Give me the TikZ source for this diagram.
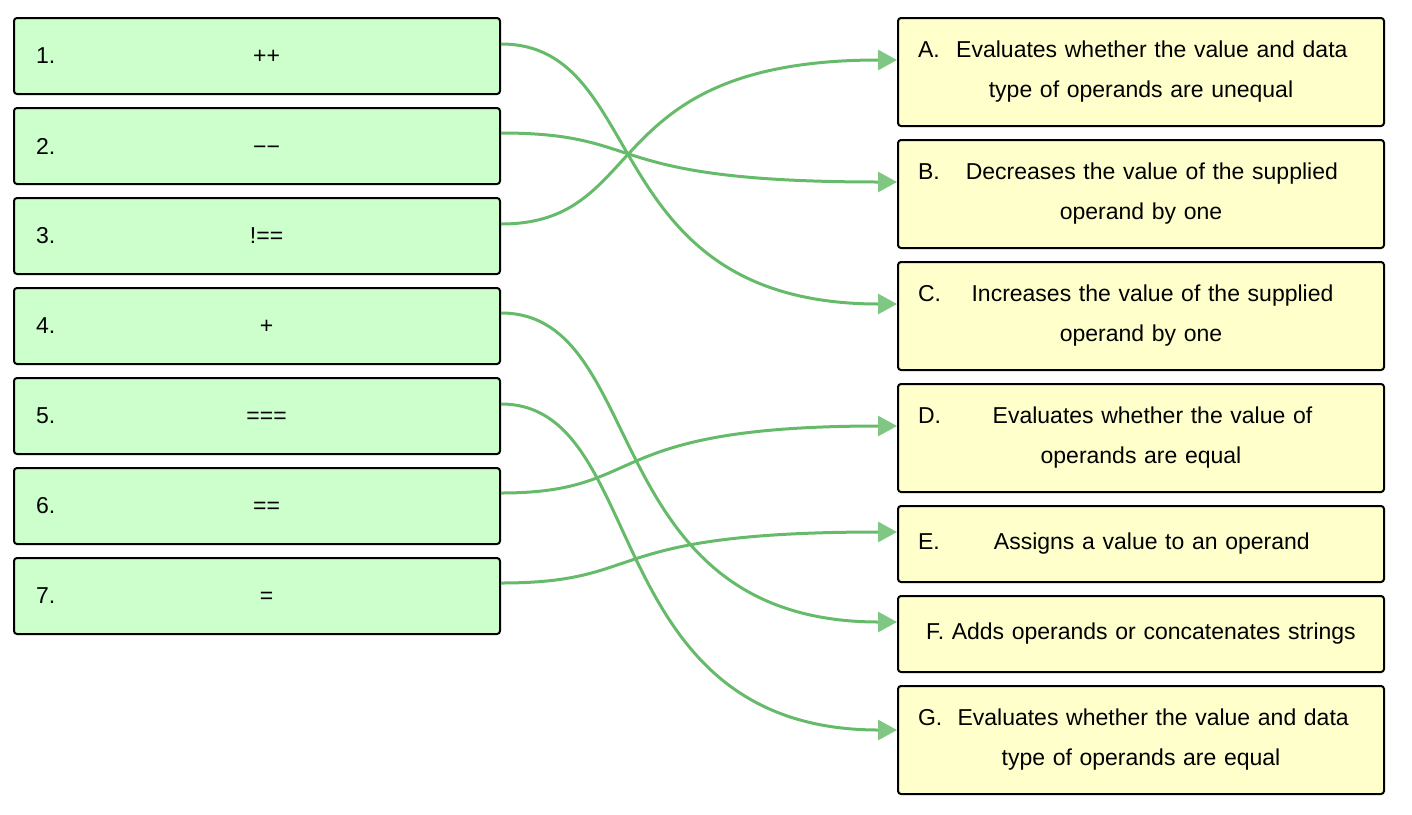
\documentclass[tikz,border=0pt]{standalone}
\usepackage{fontspec}
\setmainfont{Liberation Sans}
\usetikzlibrary{arrows.meta}
\definecolor{opgreen}{RGB}{204,255,204}
\definecolor{descyellow}{RGB}{255,255,204}
\definecolor{linkgreen}{RGB}{102,187,106}
\definecolor{tipgreen}{RGB}{129,199,132}
\newcommand{\itemline}[2]{\leavevmode\hbox to \linewidth{#1\hfill #2\hfill}}
\begin{document}
\begin{tikzpicture}[x=1pt,y=-1pt,
	opbox/.style={draw, line width=2pt, rounded corners=3pt, fill=opgreen,
		minimum height=76pt, text width=442pt, inner xsep=22pt, align=left,
		font=\fontsize{23}{40}\selectfont},
	descbox/.style={draw, line width=2pt, rounded corners=3pt, fill=descyellow,
		minimum height=108pt, text width=446pt, inner xsep=20pt, align=center,
		font=\fontsize{23}{40}\selectfont},
	link/.style={linkgreen, line width=3pt,
		-{Triangle[length=19pt,width=20pt,color=tipgreen]}}]
	\useasboundingbox (0,0) rectangle (1412,814);
	% operators
	\node[opbox] (o1) at (257, 56) {\itemline{1.}{++}};
	\node[opbox] (o2) at (257,146) {\itemline{2.}{−−}};
	\node[opbox] (o3) at (257,236) {\itemline{3.}{!==}};
	\node[opbox] (o4) at (257,326) {\itemline{4.}{+}};
	\node[opbox] (o5) at (257,416) {\itemline{5.}{===}};
	\node[opbox] (o6) at (257,506) {\itemline{6.}{==}};
	\node[opbox] (o7) at (257,596) {\itemline{7.}{=}};
	% descriptions
	\node[descbox] (dA) at (1141, 72) {\itemline{A.}{Evaluates whether the value and data}\\type of operands are unequal};
	\node[descbox] (dB) at (1141,194) {\itemline{B.}{Decreases the value of the supplied}\\operand by one};
	\node[descbox] (dC) at (1141,316) {\itemline{C.}{Increases the value of the supplied}\\operand by one};
	\node[descbox] (dD) at (1141,438) {\itemline{D.}{Evaluates whether the value of}\\operands are equal};
	\node[descbox, minimum height=76pt] (dE) at (1141,544) {\itemline{E.}{Assigns a value to an operand}};
	\node[descbox, minimum height=76pt] (dF) at (1141,634) {F. Adds operands or concatenates strings};
	\node[descbox] (dG) at (1141,740) {\itemline{G.}{Evaluates whether the value and data}\\type of operands are equal};
	% matching links
	\draw[link] ([yshift=12pt]o1.east) .. controls +(150,0) and +(-302,0) .. ([yshift=12pt]dC.west);
	\draw[link] ([yshift=13pt]o2.east) .. controls +(150,0) and +(-302,0) .. ([yshift=12pt]dB.west);
	\draw[link] ([yshift=12pt]o3.east) .. controls +(150,0) and +(-302,0) .. ([yshift=12pt]dA.west);
	\draw[link] ([yshift=13pt]o4.east) .. controls +(150,0) and +(-302,0) .. ([yshift=12pt]dF.west);
	\draw[link] ([yshift=12pt]o5.east) .. controls +(150,0) and +(-302,0) .. ([yshift=10pt]dG.west);
	\draw[link] ([yshift=13pt]o6.east) .. controls +(150,0) and +(-302,0) .. ([yshift=12pt]dD.west);
	\draw[link] ([yshift=13pt]o7.east) .. controls +(150,0) and +(-302,0) .. ([yshift=12pt]dE.west);
\end{tikzpicture}
\end{document}
